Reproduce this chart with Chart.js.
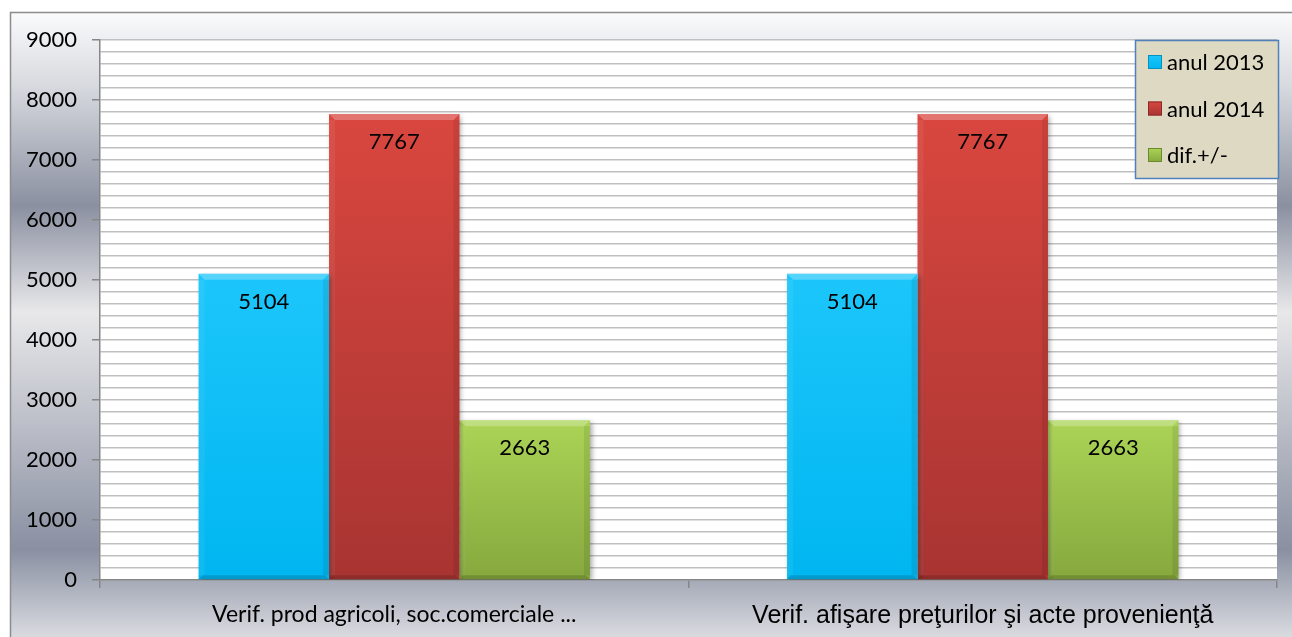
<!DOCTYPE html>
<html>
<head>
<meta charset="utf-8">
<title>Verificari 2013 - 2014</title>
<script src="https://cdn.jsdelivr.net/npm/chart.js@4/dist/chart.umd.min.js"></script>
<style>
  html, body { margin: 0; padding: 0; background: #ffffff; }
  #zona { width: 1292px; height: 637px; }
</style>
</head>
<body>
<div id="zona"><canvas id="canvas" width="1292" height="637"></canvas></div>
<script>
// date
var categorii = ["Verif. prod agricoli, soc.comerciale ...", "Verif. afişare preţurilor şi acte provenienţă"];
var anul2013 = [5104, 5104];
var anul2014 = [7767, 7767];
var diferenta = [2663, 2663];
var etichete = ["anul 2013", "anul 2014", "dif.+/-"];
var yMin = 0, yMax = 9000, pasEticheta = 1000, pasGrila = 200;

// culori (sus / jos) pentru fiecare serie
var culori = [
  { sus: "#1cc6fb", jos: "#00b6f0", margine: "#0590bd" },
  { sus: "#d9473f", jos: "#a83432", margine: "#8a2a28" },
  { sus: "#abd456", jos: "#86a83e", margine: "#6a8a2e" }
];

function umplere(i) {
  // gradient vertical pe fiecare bara
  return function(ctx) {
    var chart = ctx.chart;
    var c = culori[i];
    if (!chart.chartArea || !chart.scales.y || ctx.raw === undefined) return c.sus;
    var y = chart.scales.y;
    var g = chart.ctx.createLinearGradient(0, y.getPixelForValue(ctx.raw), 0, y.getPixelForValue(0));
    g.addColorStop(0, c.sus);
    g.addColorStop(1, c.jos);
    return g;
  };
}

var fundal = {
  id: "fundal",
  beforeDraw: function(chart) {
    var ctx = chart.ctx, a = chart.chartArea;
    var W = chart.width, H = chart.height;
    ctx.save();
    ctx.fillStyle = "#ffffff";
    ctx.fillRect(0, 0, W, H);
    var g = ctx.createLinearGradient(0, 12, 0, H);
    g.addColorStop(0, "#fbfbfc");
    g.addColorStop(0.12, "#d6d9de");
    g.addColorStop(0.31, "#8b90a1");
    g.addColorStop(0.48, "#e8e8ea");
    g.addColorStop(0.86, "#8a90a2");
    g.addColorStop(1, "#d9dbe0");
    ctx.fillStyle = g;
    ctx.fillRect(10, 12, W - 10, H - 12);
    ctx.strokeStyle = "#8c8c8c";
    ctx.lineWidth = 1.5;
    ctx.beginPath();
    ctx.moveTo(10.5, H);
    ctx.lineTo(10.5, 12.5);
    ctx.lineTo(W, 12.5);
    ctx.stroke();
    ctx.fillStyle = "#ffffff";
    ctx.fillRect(a.left, a.top, a.right - a.left, a.bottom - a.top);
    ctx.restore();
  },
  beforeDatasetsDraw: function(chart) {
    var ctx = chart.ctx;
    ctx.save();
    ctx.shadowColor = "rgba(0,0,0,0.35)";
    ctx.shadowBlur = 5;
    ctx.shadowOffsetX = 2;
    ctx.shadowOffsetY = 2;
  },
  afterDatasetsDraw: function(chart) {
    var ctx = chart.ctx;
    ctx.restore();
    ctx.save();
    chart.data.datasets.forEach(function(ds, i) {
      var meta = chart.getDatasetMeta(i);
      meta.data.forEach(function(bar, j) {
        var st = bar.x - bar.width / 2, dr = bar.x + bar.width / 2;
        var sus = bar.y, jos = bar.base, b = 6;
        // tesitura sus (mai deschis)
        ctx.fillStyle = "rgba(255,255,255,0.25)";
        ctx.beginPath();
        ctx.moveTo(st, sus); ctx.lineTo(dr, sus); ctx.lineTo(dr - b, sus + b); ctx.lineTo(st + b, sus + b);
        ctx.closePath(); ctx.fill();
        // tesitura jos (mai inchis)
        ctx.fillStyle = "rgba(0,0,0,0.15)";
        ctx.beginPath();
        ctx.moveTo(st, jos); ctx.lineTo(dr, jos); ctx.lineTo(dr - 4, jos - 4); ctx.lineTo(st + 4, jos - 4);
        ctx.closePath(); ctx.fill();
        // margini laterale
        ctx.fillStyle = "rgba(0,0,0,0.08)";
        ctx.fillRect(dr - b, sus + b, b, jos - sus - b - 4);
        ctx.fillStyle = "rgba(255,255,255,0.06)";
        ctx.fillRect(st, sus + b, b, jos - sus - b - 4);
        // valoarea
        ctx.fillStyle = "#000000";
        ctx.font = "22px Lato";
        ctx.textAlign = "center";
        ctx.textBaseline = "middle";
        ctx.fillText(String(ds.data[j]), bar.x, sus + 28);
      });
    });
    ctx.restore();
  },
  afterDraw: function(chart) {
    // legenda desenata de mana, in coltul din dreapta sus
    var ctx = chart.ctx;
    var x = 1135, y = 40, w = 143, h = 138;
    ctx.save();
    ctx.fillStyle = "#ddd9c3";
    ctx.fillRect(x, y, w, h);
    ctx.strokeStyle = "#4f81bd";
    ctx.lineWidth = 1.5;
    ctx.strokeRect(x + 0.5, y + 0.5, w, h);
    chart.data.datasets.forEach(function(ds, i) {
      var cy = 62 + i * 46.5;
      var c = culori[i];
      var g = ctx.createLinearGradient(0, cy - 7, 0, cy + 7);
      g.addColorStop(0, c.sus);
      g.addColorStop(1, c.jos);
      ctx.fillStyle = g;
      ctx.fillRect(1148, cy - 7, 14, 14);
      ctx.strokeStyle = c.margine;
      ctx.lineWidth = 1;
      ctx.strokeRect(1148.5, cy - 6.5, 13, 13);
      ctx.fillStyle = "#000000";
      ctx.font = "22px Lato";
      ctx.textAlign = "left";
      ctx.textBaseline = "middle";
      ctx.fillText(ds.label, 1167, cy + 1);
    });
    ctx.restore();
  }
};

var seturi = [anul2013, anul2014, diferenta].map(function(valori, i) {
  return {
    label: etichete[i],
    data: valori,
    backgroundColor: umplere(i),
    borderColor: culori[i].margine,
    borderWidth: 0,
    categoryPercentage: 0.665,
    barPercentage: 1.0
  };
});

window.onload = function() {
  window.grafic = new Chart(document.getElementById("canvas"), {
    type: "bar",
    data: { labels: categorii, datasets: seturi },
    plugins: [fundal],
    options: {
      responsive: false,
      animation: false,
      layout: { padding: { left: 10, top: 40, right: 15, bottom: 0 } },
      plugins: {
        legend: { display: false },
        tooltip: { enabled: false }
      },
      scales: {
        x: {
          grid: {
            offset: true,
            drawOnChartArea: false,
            drawTicks: true,
            tickLength: 8,
            color: "#868686",
            lineWidth: 1.5
          },
          border: { color: "#868686", width: 1.5 },
          ticks: {
            color: "#000000",
            padding: 13,
            autoSkip: false,
            maxRotation: 0,
            font: function(ctx) {
              if (ctx.index === 1) return { family: "'Liberation Sans', Arial", size: 25 };
              return { family: "Lato", size: 23 };
            }
          },
          afterFit: function(scale) { scale.height = 57; }
        },
        y: {
          min: yMin,
          max: yMax,
          grid: {
            color: "#bfbfbf",
            lineWidth: 1.5,
            tickLength: 8,
            tickColor: function(ctx) {
              return ctx.tick && ctx.tick.value % pasEticheta === 0 ? "#868686" : "rgba(0,0,0,0)";
            }
          },
          border: { color: "#868686", width: 1.5 },
          ticks: {
            stepSize: pasGrila,
            autoSkip: false,
            color: "#000000",
            padding: 15,
            font: { family: "Lato", size: 22 },
            callback: function(v) { return v % pasEticheta === 0 ? String(v) : ""; }
          },
          afterFit: function(scale) { scale.width = 90; }
        }
      }
    }
  });
};
</script>
</body>
</html>
